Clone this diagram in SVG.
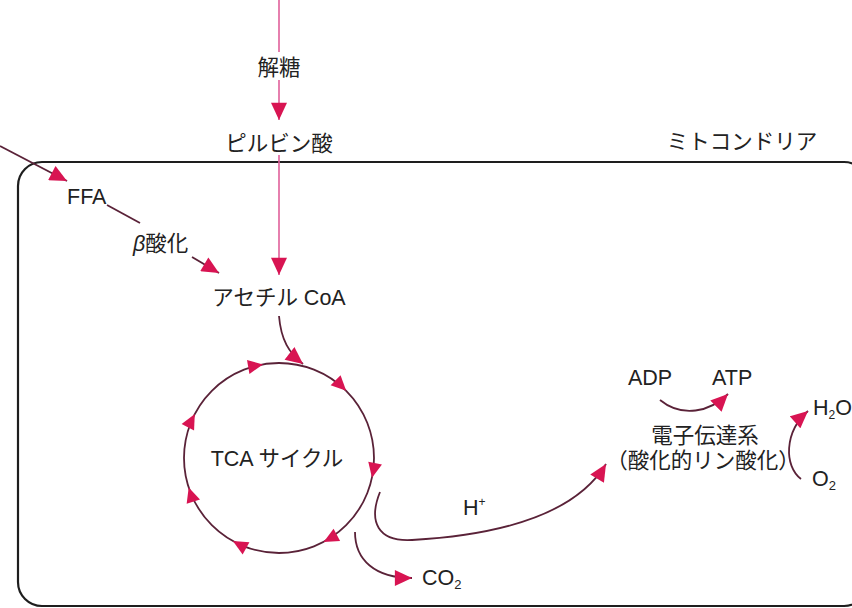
<svg xmlns="http://www.w3.org/2000/svg" width="852" height="608" viewBox="0 0 852 608">
<defs>
<style>
.t{font-family:"Liberation Sans","Noto Sans CJK JP",sans-serif;font-size:21.5px;fill:#222}
.c{text-anchor:middle}
.pk{fill:none;stroke:#e0609a;stroke-width:1.6}
.dk{fill:none;stroke:#5a2238;stroke-width:1.8}
.box{fill:none;stroke:#1e1e1e;stroke-width:2.2}
.ah{fill:#d81452}
</style>
<path id="tri" d="M0,0 L-15,-7 L-15,7 Z"/>
<marker id="arr" markerUnits="userSpaceOnUse" markerWidth="18" markerHeight="16" refX="15" refY="7" orient="auto" viewBox="0 0 15 14">
<path d="M0,0 L15,7 L0,14 Z" fill="#d81452"/>
</marker>
</defs>

<g id="mitochondria">
<rect class="box" x="18" y="162" width="850" height="444" rx="24"/>
<text class="t c" x="742" y="149">ミトコンドリア</text>
</g>

<g id="connectors">
<line class="pk" x1="279" y1="0" x2="279" y2="52"/>
<line class="pk" x1="279" y1="80" x2="279" y2="120" marker-end="url(#arr)"/>
<line class="pk" x1="279" y1="155" x2="279" y2="275" marker-end="url(#arr)"/>
<line class="dk" x1="0" y1="146" x2="67" y2="181" marker-end="url(#arr)"/>
<line class="dk" x1="107" y1="205" x2="140" y2="223"/>
<line class="dk" x1="192" y1="257" x2="219" y2="273" marker-end="url(#arr)"/>
<path class="dk" d="M279,316 C281,340 289,353 303,364" marker-end="url(#arr)"/>
<circle class="dk" cx="279" cy="458" r="95"/>
<g class="ah">
<use href="#tri" transform="translate(263,364.4) rotate(-10)"/>
<use href="#tri" transform="translate(346.2,390.8) rotate(45)"/>
<use href="#tri" transform="translate(372,477.8) rotate(102)"/>
<use href="#tri" transform="translate(323.6,541.9) rotate(152)"/>
<use href="#tri" transform="translate(232.9,541.1) rotate(209)"/>
<use href="#tri" transform="translate(188.7,487.4) rotate(252)"/>
<use href="#tri" transform="translate(194.8,414) rotate(297.6)"/>
</g>
<path class="dk" d="M380,492 C368,522 378,542 412,540 C500,535 575,515 606,464" marker-end="url(#arr)"/>
<path class="dk" d="M355,532 C355,560 375,578 412,578" marker-end="url(#arr)"/>
<path class="dk" d="M660,400 C682,418 710,412 728,394" marker-end="url(#arr)"/>
<path class="dk" d="M801,479 C784,466 784,432 808,411" marker-end="url(#arr)"/>
</g>

<g id="glycolysis"><text class="t c" x="279" y="75">解糖</text></g>
<g id="pyruvate"><text class="t c" x="279" y="151">ピルビン酸</text></g>
<g id="ffa"><text class="t" x="67" y="204">FFA</text></g>
<g id="beta-oxidation"><text class="t" x="133" y="251"><tspan font-style="italic">β</tspan>酸化</text></g>
<g id="acetyl-coa"><text class="t c" x="279" y="305">アセチル CoA</text></g>
<g id="tca"><text class="t c" x="277" y="466">TCA サイクル</text></g>
<g id="hplus"><text class="t" x="463" y="515" font-size="20">H<tspan font-size="12" dy="-9">+</tspan></text></g>
<g id="co2"><text class="t" x="422" y="585">CO<tspan font-size="13" dy="4">2</tspan></text></g>
<g id="adp"><text class="t" x="628" y="385">ADP</text></g>
<g id="atp"><text class="t" x="712" y="385">ATP</text></g>
<g id="etc">
<text class="t c" x="705" y="443">電子伝達系</text>
<text class="t c" x="703" y="468">（酸化的リン酸化）</text>
</g>
<g id="h2o"><text class="t" x="813" y="415" font-size="20">H<tspan font-size="12" dy="4">2</tspan><tspan dy="-4">O</tspan></text></g>
<g id="o2"><text class="t" x="812" y="486">O<tspan font-size="13" dy="4">2</tspan></text></g>
</svg>
